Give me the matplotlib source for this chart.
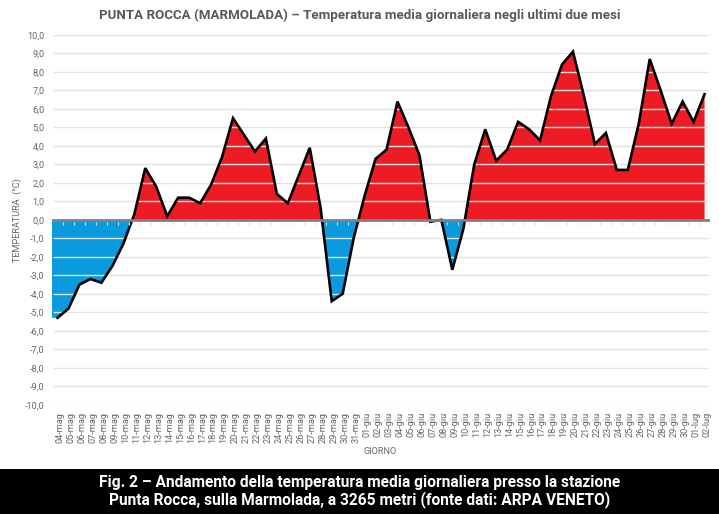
import matplotlib
matplotlib.use("Agg")
import matplotlib.pyplot as plt
from matplotlib.patches import Rectangle
import numpy as np

plt.rcParams['font.family'] = ['Roboto', 'DejaVu Sans']

days_may = [f"{d:02d}-mag" for d in range(4, 32)]
days_jun = [f"{d:02d}-giu" for d in range(1, 31)]
days_jul = [f"{d:02d}-lug" for d in range(1, 3)]
labels = days_may + days_jun + days_jul

temps = [-5.3, -4.8, -3.5, -3.2, -3.4, -2.5, -1.3, 0.3, 2.8, 1.8,
         0.2, 1.2, 1.2, 0.9, 1.9, 3.4, 5.5, 4.6, 3.7, 4.4,
         1.4, 0.9, 2.4, 3.9, 0.6, -4.4, -4.0, -1.0, 1.3, 3.3,
         3.8, 6.4, 5.0, 3.5, -0.1, 0.0, -2.7, -0.5, 3.0, 4.9,
         3.2, 3.8, 5.3, 4.9, 4.3, 6.7, 8.4, 9.1, 6.7, 4.1,
         4.7, 2.7, 2.7, 5.2, 8.7, 7.0, 5.2, 6.4, 5.3, 6.8]
yticks = list(range(-10, 11))
title = "PUNTA ROCCA (MARMOLADA) \u2013 Temperatura media giornaliera negli ultimi due mesi"
caption = ("Fig. 2 \u2013 Andamento della temperatura media giornaliera presso la stazione\n"
           "Punta Rocca, sulla Marmolada, a 3265 metri (fonte dati: ARPA VENETO)")

W, H = 719, 514
fig = plt.figure(figsize=(W / 100, H / 100), dpi=100, facecolor="white")
ax = fig.add_axes([51.5 / W, 1 - 404.7 / H, (709.5 - 51.5) / W, (404.7 - 35) / H])

x = np.arange(len(temps))
y = np.array(temps, dtype=float)
xl = (-0.55, 59.45)

xf = np.r_[xl[0], x]
yf = np.r_[y[0], y]
dense_x = np.linspace(xf[0], xf[-1], 6000)
dense_y = np.interp(dense_x, xf, yf)
ax.fill_between(dense_x, dense_y, 0, where=dense_y >= 0, color="#ed1c24", lw=0, zorder=2)
ax.fill_between(dense_x, dense_y, 0, where=dense_y <= 0, color="#0a9ade", lw=0, zorder=2)

ax.set_xlim(*xl)
ax.set_ylim(-10, 10)
ax.hlines([t for t in yticks if t != 0], xl[0] + 0.15, xl[1] - 0.1,
          color="#e2e2e2", lw=1.0, zorder=3)
ax.plot(x, y, color="black", lw=1.9, zorder=4, solid_joinstyle="miter")
ax.axhline(0, color="#808080", lw=2.0, zorder=5)

for s in ax.spines.values():
    s.set_visible(False)
ax.patch.set_visible(False)

ax.set_yticks(yticks)
ax.set_yticklabels([f"{t:.1f}".replace(".", ",") for t in yticks],
                   fontsize=6.6, color="#666666")
ax.tick_params(axis="y", length=0, pad=5)
ax.set_xticks([])
for xi, lab in zip(x, labels):
    ax.text(xi + 0.2, -10.38, lab, rotation=90, ha="center", va="top",
            fontsize=6.6, color="#666666", zorder=6)
    ax.vlines(xi + 0.5, -0.28, -0.1, color="#e2e2e2", lw=0.8, zorder=5)

fig.text(17 / W, 1 - 220 / H, "TEMPERATURA  (\u00b0C)", rotation=90, ha="center", va="center",
         fontsize=6.6, color="#666666")
fig.text(380 / W, 1 - 451 / H, "GIORNO", ha="center", va="center", fontsize=6.6, color="#666666")
fig.text(359.5 / W, 1 - 15.5 / H, title, ha="center", va="center", fontsize=9.6,
         fontweight="bold", color="#595959")

fig.add_artist(Rectangle((0, 0), 1, 45 / H, transform=fig.transFigure, facecolor="black", edgecolor="none"))
fig.text(359.5 / W, 1 - 491.5 / H, caption, ha="center", va="center", fontsize=11.2,
         fontweight="bold", color="white", linespacing=1.15, zorder=10)

fig.savefig("out.png", dpi=100)
